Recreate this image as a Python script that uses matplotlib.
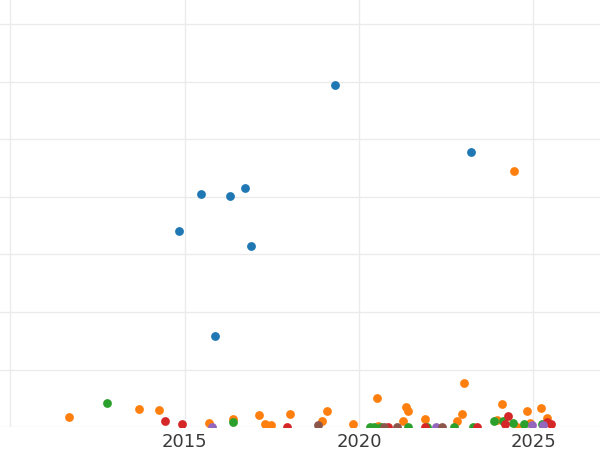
import matplotlib
matplotlib.use("Agg")
import matplotlib.pyplot as plt

# decimal year / value pairs for each group
blue_x = [2019.31, 2023.21, 2015.47, 2016.30, 2016.73, 2014.84, 2016.91, 2015.87]
blue_y = [5.95, 4.78, 4.05, 4.02, 4.16, 3.41, 3.15, 1.58]

orange_x = [2011.69, 2013.70, 2014.27, 2015.71, 2016.40, 2017.14, 2017.32, 2017.48,
            2018.02, 2018.93, 2019.07, 2019.82, 2020.51, 2020.55, 2021.25, 2021.35,
            2021.40, 2021.90, 2022.82, 2022.96, 2023.02, 2024.44, 2023.94, 2024.11,
            2024.52, 2024.81, 2024.90, 2025.21, 2025.38]
orange_y = [0.18, 0.31, 0.29, 0.07, 0.14, 0.21, 0.06, 0.03,
            0.23, 0.10, 0.27, 0.05, 0.50, 0.02, 0.11, 0.34,
            0.28, 0.14, 0.11, 0.22, 0.76, 4.45, 0.13, 0.40,
            0.0, 0.28, 0.07, 0.33, 0.15]

green_x = [2012.78, 2016.40, 2020.32, 2020.42, 2020.62, 2021.41, 2021.96, 2022.73,
           2023.28, 2023.87, 2024.12, 2024.40, 2024.74, 2025.24]
green_y = [0.42, 0.08, 0.0, 0.0, 0.0, 0.0, 0.0, 0.0,
           0.0, 0.10, 0.11, 0.07, 0.06, 0.05]

red_x = [2014.45, 2014.93, 2017.93, 2020.83, 2021.89, 2023.39, 2024.27, 2024.18,
         2025.40, 2025.49]
red_y = [0.11, 0.06, 0.0, 0.0, 0.0, 0.0, 0.20, 0.06, 0.09, 0.05]

purple_x = [2015.79, 2022.20, 2024.95, 2025.28]
purple_y = [0.0, 0.0, 0.03, 0.03]

brown_x = [2018.82, 2020.72, 2021.08, 2022.39]
brown_y = [0.03, 0.0, 0.0, 0.0]

groups = [
    (blue_x, blue_y, "#1f77b4"),
    (orange_x, orange_y, "#ff7f0e"),
    (green_x, green_y, "#2ca02c"),
    (red_x, red_y, "#d62728"),
    (purple_x, purple_y, "#9467bd"),
    (brown_x, brown_y, "#8c564b"),
]

year_ticks = [2010, 2015, 2020, 2025]
year_labels = ["", "2015", "2020", "2025"]

fig = plt.figure(figsize=(6, 4.5), dpi=100)
ax = fig.add_axes([0, 23 / 450, 1, 427 / 450])

for xs, ys, color in groups:
    ax.scatter(xs, ys, s=40, color=color, linewidths=0, zorder=3)

ax.set_xlim(2010 - 10 / 34.9, 2010 + 590 / 34.9)
ax.set_ylim(0, 427 / 57.5)
ax.set_xticks(year_ticks)
ax.set_xticklabels(year_labels)
ax.set_yticks(range(0, 8))
ax.set_yticklabels([])
ax.tick_params(axis="both", length=0, pad=4.5, labelsize=13, labelcolor="#3a3a3a")
ax.grid(True, color="#ebebeb", linewidth=1.0, zorder=0)
ax.set_axisbelow(True)
for spine in ax.spines.values():
    spine.set_visible(False)

fig.savefig("out.png", dpi=100)
